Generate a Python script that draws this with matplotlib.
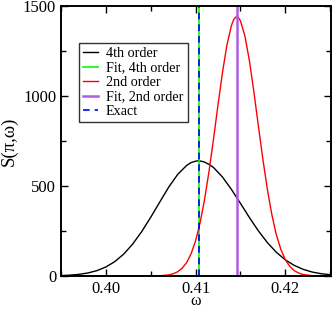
import numpy as np
from matplotlib import pyplot as plt
from matplotlib.ticker import MultipleLocator

# 4th order spectrum
omega_4th = [0.395, 0.396, 0.397, 0.398, 0.399, 0.400, 0.401, 0.402, 0.403,
             0.404, 0.405, 0.406, 0.407, 0.408, 0.409, 0.4095, 0.410, 0.4103,
             0.4107, 0.411, 0.4115, 0.412, 0.413, 0.414, 0.415, 0.416, 0.417,
             0.418, 0.419, 0.420, 0.421, 0.422, 0.423, 0.424, 0.425]
s_4th = [2.3, 4.7, 9.1, 16.8, 29.7, 50, 80, 122, 178, 247, 326, 410, 493, 564,
         614, 630, 638, 640, 637, 633, 620, 603, 550, 481, 404, 325, 251, 186,
         132, 90, 59, 37, 22, 12.8, 7.1]

# 2nd order spectrum
omega_2nd = [0.395, 0.400, 0.405, 0.406, 0.407, 0.4075, 0.408, 0.4085, 0.409,
             0.4095, 0.410, 0.4105, 0.411, 0.4115, 0.412, 0.4125, 0.413,
             0.4135, 0.414, 0.41425, 0.4145, 0.41475, 0.415, 0.4155, 0.416,
             0.4165, 0.417, 0.4175, 0.418, 0.4185, 0.419, 0.4195, 0.420,
             0.4205, 0.421, 0.4215, 0.422, 0.423, 0.424, 0.425]
s_2nd = [0, 0, 0.2, 1.3, 6.2, 12.4, 23.4, 43, 74, 123, 195, 294, 423, 581,
         760, 949, 1130, 1284, 1391, 1425, 1439, 1438, 1418, 1334, 1197, 1024,
         835, 650, 483, 342, 230, 149, 91, 54, 30, 16, 8.1, 1.9, 0.3, 0]

fit_4th = 0.41035
fit_2nd = 0.41465
exact = 0.41035

plt.rcParams['font.family'] = ['Liberation Serif', 'DejaVu Serif']

fig = plt.figure(figsize=(3.32, 3.09), dpi=100)
ax = fig.add_axes([0.1837, 0.1068, 0.8133, 0.8738])

ax.plot(omega_4th, s_4th, color='k', lw=1.0, label='4th order')
ax.axvline(fit_4th, color='#00ff00', lw=1.2, label='Fit, 4th order')
ax.plot(omega_2nd, s_2nd, color='#ff0000', lw=1.0, label='2nd order')
ax.axvline(fit_2nd, color='#b05ce0', lw=1.8, label='Fit, 2nd order')
ax.axvline(exact, color='#0000ff', lw=1.2, ls=(0, (4, 3)), label='Exact')

ax.set_xlim(0.395, 0.4251)
ax.set_ylim(0, 1500)
ax.xaxis.set_major_locator(MultipleLocator(0.01))
ax.xaxis.set_minor_locator(MultipleLocator(0.005))
ax.yaxis.set_major_locator(MultipleLocator(500))
ax.yaxis.set_minor_locator(MultipleLocator(250))
ax.tick_params(which='both', direction='in', top=True, right=True,
               labelsize=12, width=1.0)
ax.tick_params(which='major', length=5)
ax.tick_params(which='minor', length=3.5)
ax.tick_params(axis='x', which='major', pad=3.5)
for sp in ax.spines.values():
    sp.set_linewidth(1.4)

ax.set_xlabel('ω', fontsize=11.5, labelpad=-3)
ax.set_ylabel('S(π,ω)', fontsize=13.5, labelpad=4)

leg = ax.legend(loc='upper left', bbox_to_anchor=(0.0667, 0.863),
                borderaxespad=0, fontsize=10.2, frameon=True, fancybox=False,
                handlelength=1.05, handletextpad=0.55, labelspacing=0.1,
                borderpad=0.3)
leg.get_frame().set_edgecolor('k')
leg.get_frame().set_linewidth(1.0)

fig.savefig('out.png', dpi=100)
